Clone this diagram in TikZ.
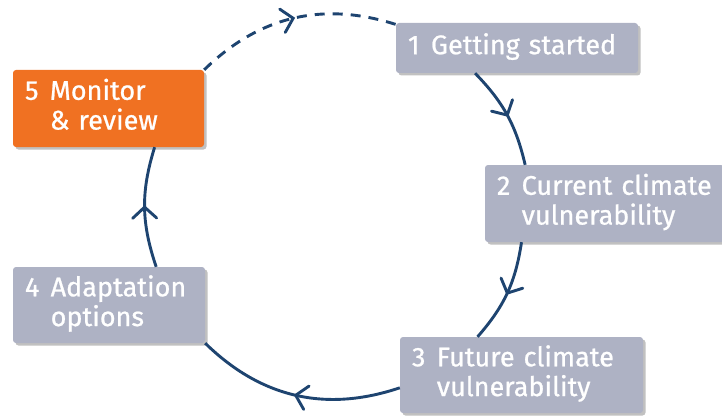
\documentclass[tikz,border=0pt]{standalone}
\usepackage{fontspec}
\setmainfont{Fira Sans}[FakeBold=0.8]
\usetikzlibrary{decorations.markings,shadows}
\definecolor{boxgrey}{HTML}{AEB2C4}
\definecolor{boxorange}{HTML}{F07122}
\definecolor{linenavy}{HTML}{1E4470}
\newcommand\steplab[2]{\begin{tabular}{@{}l@{\hspace{0.42em}}l@{}}#1 & #2\end{tabular}}
\tikzset{
  stepbox/.style={rectangle, rounded corners=3pt, fill=boxgrey, text=white,
    inner xsep=12pt, inner ysep=0pt, align=left,
    font=\fontsize{27}{29}\selectfont,
    drop shadow={shadow xshift=2.5pt, shadow yshift=-2.5pt, opacity=0.35, fill=black!70}},
  cyc/.style={draw=linenavy, line width=2.9pt,
    postaction={decorate},
    decoration={markings, mark=at position 0.5 with {\draw[solid, linenavy, line width=2.9pt, line cap=round, line join=miter] (-11pt,12pt) -- (0pt,0pt) -- (-11pt,-12pt);}}},
}
\begin{document}
\begin{tikzpicture}[x=1pt,y=-1pt]
\useasboundingbox (0,0) rectangle (722,417);
\node[stepbox, text width=218pt, minimum height=50pt] (n1) at (517,48) {\steplab{1}{Getting started}};
\node[stepbox, text width=215pt, minimum height=77pt] (n2) at (604.5,203.5) {\steplab{2}{Current climate\\ & vulnerability}};
\node[stepbox, text width=219pt, minimum height=76pt] (n3) at (521.5,375) {\steplab{3}{Future climate\\ & vulnerability}};
\node[stepbox, text width=168pt, minimum height=76pt] (n4) at (109,305) {\steplab{4}{Adaptation\\ & options}};
\node[stepbox, fill=boxorange, text width=167pt, minimum height=77pt] (n5) at (108.5,108.5) {\steplab{5}{Monitor\\ & \& review}};

\draw[cyc, dash pattern=on 10pt off 8pt] (n5.north east) to[bend left=31] (n1.169);
\draw[cyc] (n1.211) to[bend left=15.5] (n2.154);
\draw[cyc] (n2.205.6) to[bend left=16.3] (n3.139.5);
\draw[cyc] (n3.186) to[bend left=31.5] (n4.south east);
\draw[cyc] (n4.39.6) to[bend left=18] (n5.320.4);
\end{tikzpicture}
\end{document}
